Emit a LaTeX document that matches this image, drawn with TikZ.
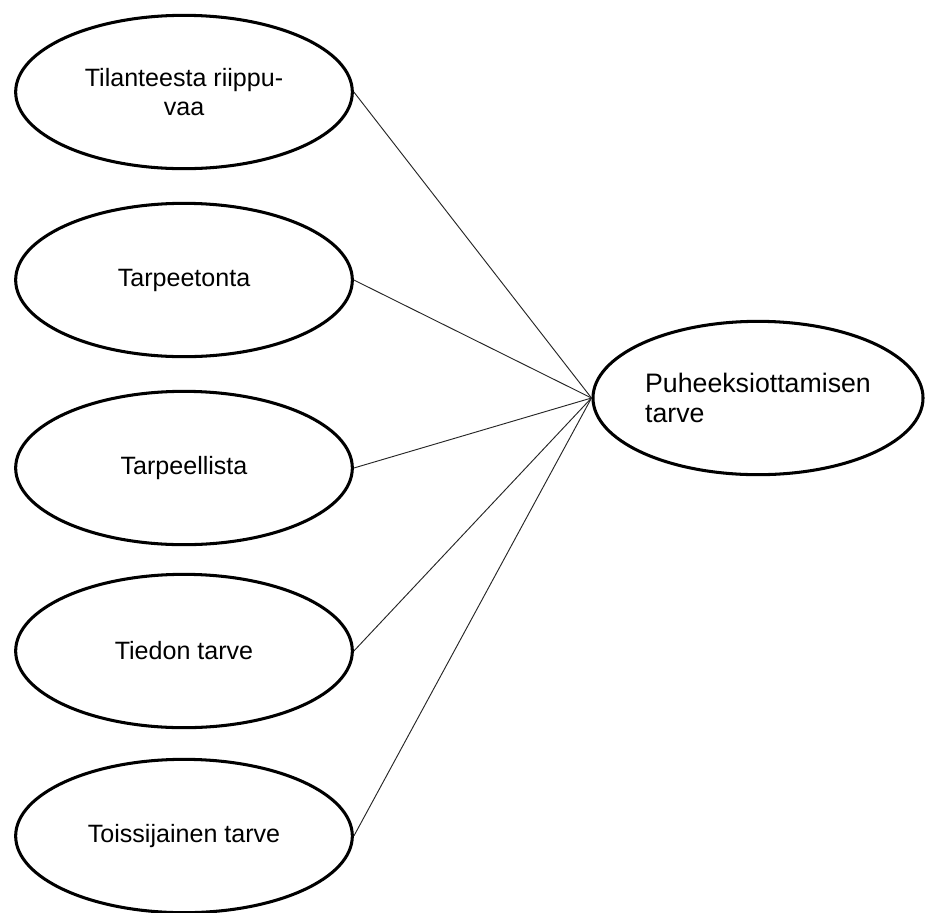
\documentclass[tikz,border=0pt]{standalone}
\usepackage{fontspec}
\setmainfont{Liberation Sans}
\usepackage{tikz}
\usetikzlibrary{shapes,positioning}

\begin{document}
\begin{tikzpicture}[x=0.03cm, y=-0.03cm, thick,
  syy/.style={draw, ellipse, line width=2.6pt, minimum width=10.1cm, minimum height=4.6cm, inner sep=0pt, align=center, font=\fontsize{21.4}{25.5}\selectfont},
  tarve/.style={draw, ellipse, line width=2.6pt, minimum width=9.9cm, minimum height=4.6cm, inner sep=0pt, align=left, font=\fontsize{22.8}{25.5}\selectfont},
  yhteys/.style={line width=0.8pt, black!85}]
\useasboundingbox (0,0) rectangle (925,912);
\node[syy] (S1) at (184,92) {Tilanteesta riippu-\\vaa};
\node[syy] (S2) at (184,280) {Tarpeetonta};
\node[syy] (S3) at (184,468) {Tarpeellista};
\node[syy] (S4) at (184,651) {Tiedon tarve};
\node[syy] (S5) at (184,836) {Toissijainen tarve};
\node[tarve] (P) at (758,398) {Puheeksiottamisen\\tarve};
\draw[yhteys] (S1.east) -- (P.west);
\draw[yhteys] (S2.east) -- (P.west);
\draw[yhteys] (S3.east) -- (P.west);
\draw[yhteys] (S4.east) -- (P.west);
\draw[yhteys] (S5.east) -- (P.west);
\end{tikzpicture}
\end{document}
